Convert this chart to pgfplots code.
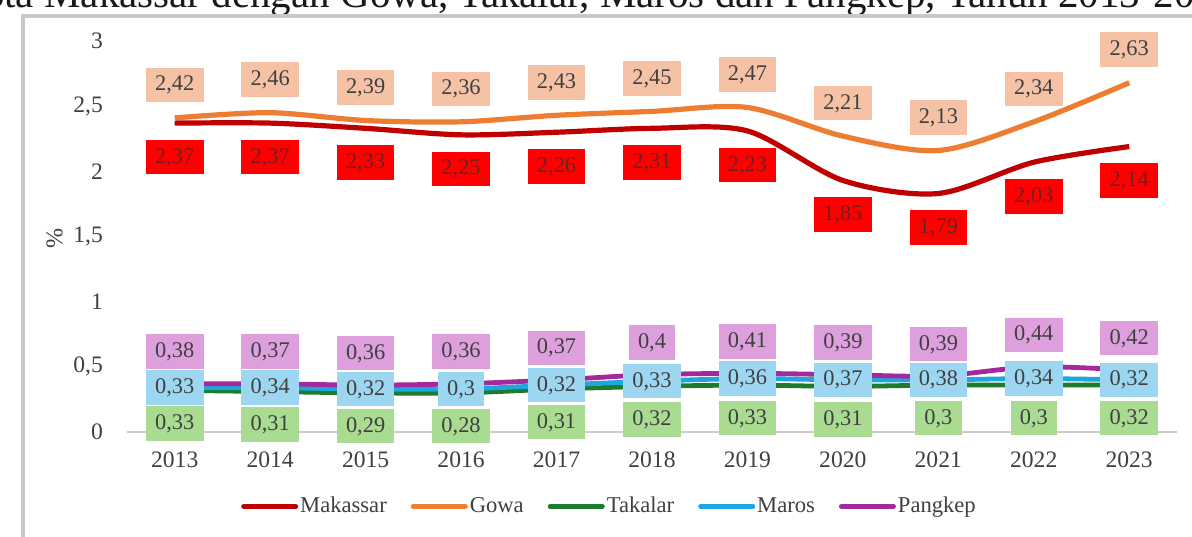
\documentclass[border=0pt]{standalone}
\usepackage{pgfplots}
\pgfplotsset{compat=1.18}
\usepackage{pgfplotstable}
\usepackage{fontspec}
\setmainfont{Liberation Serif}

\definecolor{cMak}{HTML}{C00000}
\definecolor{cGowa}{HTML}{ED7D31}
\definecolor{cTak}{HTML}{1E7A2C}
\definecolor{cMar}{HTML}{1EA6DE}
\definecolor{cPang}{HTML}{A3299C}
\definecolor{fMak}{HTML}{FF0000}
\definecolor{fGowa}{HTML}{F5C2A6}
\definecolor{fTak}{HTML}{A9DB91}
\definecolor{fMar}{HTML}{9DD6F1}
\definecolor{fPang}{HTML}{DDA0DD}
\definecolor{txt}{HTML}{404040}
\definecolor{txtMak}{HTML}{702020}
\definecolor{frame}{HTML}{C8C8C8}

% line positions (as drawn) and printed label values
\pgfplotstableread{
year mak makL gowa gowaL tak takL mar marL pang pangL
2013 2.37 2.37 2.41 2.42 0.32 0.33 0.34 0.33 0.37 0.38
2014 2.37 2.37 2.45 2.46 0.31 0.31 0.34 0.34 0.37 0.37
2015 2.33 2.33 2.39 2.39 0.30 0.29 0.33 0.32 0.36 0.36
2016 2.28 2.25 2.38 2.36 0.30 0.28 0.33 0.30 0.37 0.36
2017 2.30 2.26 2.43 2.43 0.33 0.31 0.36 0.32 0.40 0.37
2018 2.33 2.31 2.46 2.45 0.35 0.32 0.39 0.33 0.44 0.40
2019 2.31 2.23 2.49 2.47 0.36 0.33 0.41 0.36 0.45 0.41
2020 1.93 1.85 2.27 2.21 0.35 0.31 0.40 0.37 0.44 0.39
2021 1.83 1.79 2.16 2.13 0.36 0.30 0.40 0.38 0.43 0.39
2022 2.07 2.03 2.38 2.34 0.36 0.30 0.41 0.34 0.50 0.44
2023 2.19 2.14 2.68 2.63 0.36 0.32 0.40 0.32 0.475 0.42
}\data

\pgfplotsset{
  lbl/.style={draw=none, forget plot, nodes near coords, point meta=explicit,
    nodes near coords style={anchor=center, font=\fontsize{11.2}{13}\selectfont,
      inner xsep=4.6pt, inner ysep=4pt, text height=7.7pt, text depth=1.6pt, #1}},
}

\begin{document}
\begin{tikzpicture}
\useasboundingbox (0,0) rectangle (596pt,268pt);
\clip (0,0) rectangle (596pt,268pt);
\node[anchor=base west, inner sep=0pt, font=\fontsize{20.5}{24}\selectfont, text=black!90]
  at (22pt,264pt) {\llap{Kota }Makassar dengan Gowa, Takalar, Maros dan Pangkep, Tahun 2013-2023};
\fill[white] (11.5pt,-5pt) rectangle (600pt,260pt);
\draw[draw=frame, line width=1.8pt] (11.5pt,-5pt) -- (11.5pt,260pt) -- (600pt,260pt);
\begin{axis}[
  at={(63.5pt,52pt)}, anchor=south west,
  scale only axis, width=525pt, height=195.5pt,
  xmin=2012.5, xmax=2023.5, ymin=0, ymax=3,
  clip=false,
  axis line style={draw=none},
  major tick length=0pt,
  xtick={2013,2014,...,2023},
  ytick={0,0.5,1,1.5,2,2.5,3},
  extra y ticks={0}, extra y tick labels={},
  extra y tick style={grid=major, major grid style={draw=black!20, line width=0.8pt}},
  /pgf/number format/.cd, use comma, 1000 sep={}, assume math mode=true,
  /pgfplots/.cd,
  tick label style={font=\fontsize{11.8}{13}\selectfont, text=txt},
  yticklabel style={xshift=-8.5pt},
  xticklabel style={yshift=-6.2pt},
  ylabel={\%},
  ylabel style={at={(axis description cs:-0.069,0.496)}, anchor=center, font=\fontsize{12}{14}\selectfont, text=txt},
  legend style={at={(axis description cs:0.4595,-0.19)}, anchor=center, draw=none, fill=none,
    legend columns=5, font=\fontsize{11.3}{13}\selectfont, text=txt, inner sep=0pt,
    nodes={inner sep=1pt},
    /tikz/every even column/.append style={column sep=11pt}},
  legend image code/.code={\draw[#1, line width=2.5pt, line cap=round] (0pt,0pt) -- (26pt,0pt);},
]
\addplot[cMak, line width=2.6pt, smooth, tension=0.5] table[x=year, y=mak] {\data};
\addlegendentry{Makassar}
\addplot[cGowa, line width=2.6pt, smooth, tension=0.5] table[x=year, y=gowa] {\data};
\addlegendentry{Gowa}
\addplot[cTak, line width=2.4pt, smooth, tension=0.5] table[x=year, y=tak] {\data};
\addlegendentry{Takalar}
\addplot[cMar, line width=2.4pt, smooth, tension=0.5] table[x=year, y=mar] {\data};
\addlegendentry{Maros}
\addplot[cPang, line width=2.4pt, smooth, tension=0.5] table[x=year, y=pang] {\data};
\addlegendentry{Pangkep}

\addplot[lbl={fill=fGowa, text=txt, yshift=16.5pt}] table[x=year, y=gowa, meta=gowaL] {\data};
\addplot[lbl={fill=fMak, text=txtMak, yshift=-17pt}] table[x=year, y=mak, meta=makL] {\data};
\addplot[lbl={fill=fPang, text=txt, yshift=16pt}] table[x=year, y=pang, meta=pangL] {\data};
\addplot[lbl={fill=fTak, text=txt, yshift=-16.5pt}] table[x=year, y=tak, meta=takL] {\data};
\addplot[lbl={fill=fMar, text=txt}] table[x=year, y=mar, meta=marL] {\data};
\end{axis}
\end{tikzpicture}
\end{document}
